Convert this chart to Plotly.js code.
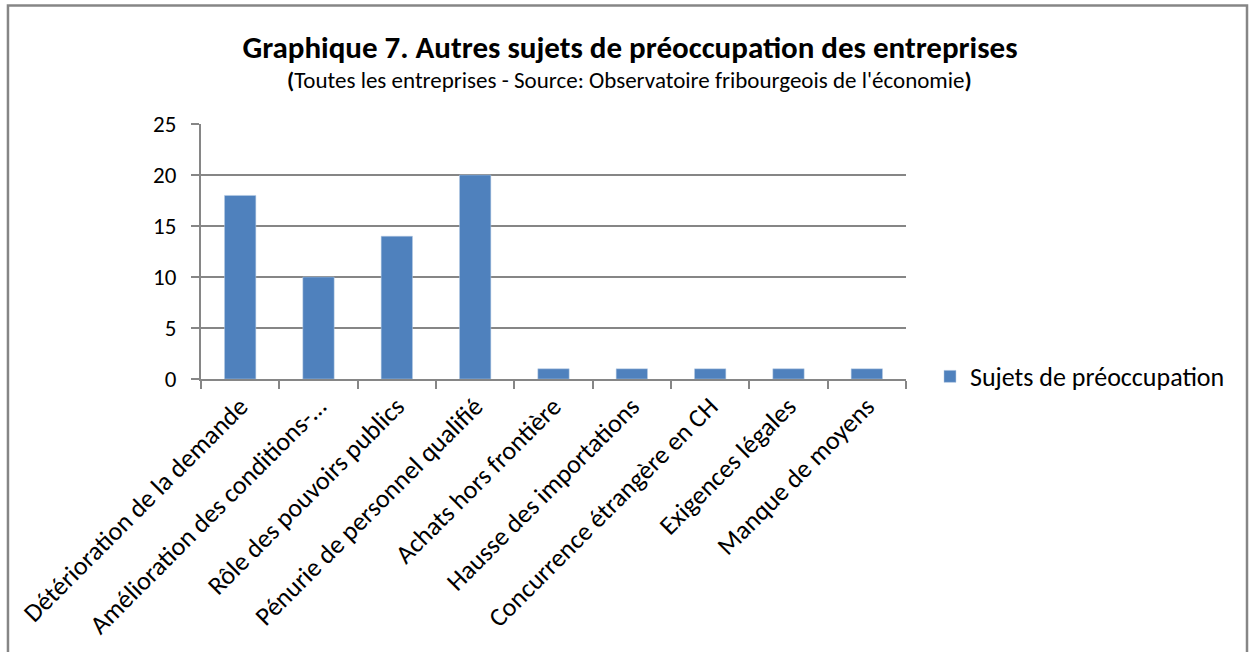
<!DOCTYPE html>
<html>
<head>
<meta charset="utf-8">
<script src="https://cdn.plot.ly/plotly-3.0.1.min.js"></script>
<style>html,body{margin:0;padding:0;background:#fff;}#chart{width:1253px;height:652px;}</style>
</head>
<body>
<div id="chart"></div>
<script>
const categories = [
  "Détérioration de la demande",
  "Amélioration des conditions-…",
  "Rôle des pouvoirs publics",
  "Pénurie de personnel qualifié",
  "Achats hors frontière",
  "Hausse des importations",
  "Concurrence étrangère en CH",
  "Exigences légales",
  "Manque de moyens"
];
const values = [18, 10, 14, 20, 1, 1, 1, 1, 1];
const seriesName = "Sujets de préoccupation";
const yTicks = [0, 5, 10, 15, 20, 25];
const titleText = "Graphique 7. Autres sujets de préoccupation des entreprises";
const subtitleText = "Toutes les entreprises - Source: Observatoire fribourgeois de l'économie";

const FONT = "Carlito, Lato, 'Open Sans', sans-serif";
const GRAY = "#868686";

const trace = {
  type: "bar",
  x: categories,
  y: values,
  name: seriesName,
  marker: {color: "#4F81BD", line: {color: "#B9CDE5", width: 0.5}},
  showlegend: true
};

const layout = {
  width: 1253,
  height: 652,
  margin: {l: 201, r: 347, t: 124, b: 273},
  paper_bgcolor: "#fff",
  plot_bgcolor: "#fff",
  font: {family: FONT, color: "#000"},
  bargap: 0.6,
  title: {
    text: "<b>" + titleText + "</b>",
    xref: "paper", x: 0.6085, xanchor: "center",
    yref: "container", y: 1 - 47 / 652, yanchor: "middle",
    font: {family: FONT, size: 31, color: "#000"}
  },
  annotations: [{
    text: "<b>(</b>" + subtitleText + "<b>)</b>",
    xref: "paper", yref: "paper",
    x: 0.6085, y: (379 - 80) / 255,
    xanchor: "center", yanchor: "middle",
    showarrow: false,
    font: {family: FONT, size: 23, color: "#000"}
  }],
  xaxis: {
    type: "category",
    tickangle: -45,
    tickfont: {family: FONT, size: 26, color: "#000"},
    showline: true, linecolor: GRAY, linewidth: 2,
    ticks: "outside", tickson: "boundaries", ticklen: 8, tickcolor: GRAY, tickwidth: 2,
    showgrid: false,
    automargin: false
  },
  yaxis: {
    range: [0, 25],
    tickvals: yTicks,
    tickfont: {family: FONT, size: 23, color: "#000"},
    showline: true, linecolor: GRAY, linewidth: 2,
    ticks: "outside", ticklen: 8, tickcolor: GRAY, tickwidth: 2,
    ticklabelstandoff: 10,
    showgrid: true, gridcolor: GRAY, gridwidth: 2,
    zeroline: false,
    automargin: false
  },
  legend: {
    x: 1.034, xanchor: "left",
    y: 0.01, yanchor: "middle",
    font: {family: FONT, size: 26, color: "#000"},
    bgcolor: "rgba(0,0,0,0)"
  },
  shapes: [{
    type: "path", xref: "paper", yref: "paper",
    path: "M -0.2738,-1.2 L -0.2738,1.4647 L 1.4837,1.4647 L 1.4837,-1.2",
    line: {color: GRAY, width: 2.5}
  }]
};

Plotly.newPlot("chart", [trace], layout, {displayModeBar: false, staticPlot: true});
</script>
</body>
</html>
